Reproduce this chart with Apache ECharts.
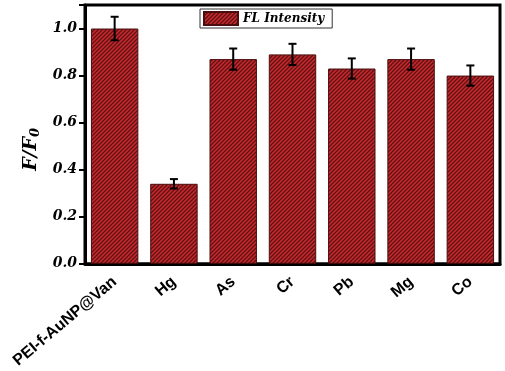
<!DOCTYPE html>
<html>
<head>
<meta charset="utf-8">
<script src="https://cdn.jsdelivr.net/npm/echarts@6/dist/echarts.min.js"></script>
<style>
  html, body { margin: 0; padding: 0; background: #fff; }
  #chart { width: 505px; height: 371px; }
</style>
</head>
<body>
<div id="chart"></div>
<script>
// 数据
var categories = ['PEI-f-AuNP@Van', 'Hg', 'As', 'Cr', 'Pb', 'Mg', 'Co'];
var ratios = [1.0, 0.34, 0.87, 0.89, 0.83, 0.87, 0.80];
var errors = [0.05, 0.02, 0.045, 0.045, 0.043, 0.045, 0.043];
var yTicks = [0.0, 0.2, 0.4, 0.6, 0.8, 1.0];

// 斜线填充图案
function makeHatch() {
  var c = document.createElement('canvas');
  c.width = 4; c.height = 4;
  var ctx = c.getContext('2d');
  ctx.fillStyle = '#c9292f';
  ctx.fillRect(0, 0, 4, 4);
  ctx.strokeStyle = '#5e1212';
  ctx.lineWidth = 1.3;
  ctx.beginPath();
  ctx.moveTo(-1, 5); ctx.lineTo(5, -1);
  ctx.moveTo(-1, 1); ctx.lineTo(1, -1);
  ctx.moveTo(3, 5); ctx.lineTo(5, 3);
  ctx.stroke();
  return c;
}
var hatch = { image: makeHatch(), repeat: 'repeat' };

var myChart = echarts.init(document.getElementById('chart'));
var option = {
  animation: false,
  grid: {
    left: 85, right: 5, top: 5, bottom: 107,
    show: true, borderColor: '#000', borderWidth: 3, backgroundColor: 'transparent'
  },
  legend: {
    data: [{ name: 'FL Intensity', icon: 'rect' }],
    left: 200, top: 9,
    itemWidth: 34, itemHeight: 13, itemGap: 6,
    borderColor: '#333', borderWidth: 1, padding: [2, 8, 2, 3],
    textStyle: { fontFamily: 'DejaVu Serif', fontStyle: 'italic', fontWeight: 'bold', fontSize: 12, color: '#000' }
  },
  xAxis: {
    type: 'category',
    data: categories,
    axisTick: { alignWithLabel: true, length: 6, lineStyle: { color: '#000', width: 2 } },
    axisLine: { lineStyle: { color: '#000', width: 3 } },
    axisLabel: {
      rotate: 40, margin: 16, interval: 0,
      fontFamily: 'Liberation Sans', fontWeight: 'bold', fontSize: 16, color: '#000'
    }
  },
  yAxis: {
    type: 'value',
    min: 0, max: 1.1, interval: 0.2,
    name: '{i|F/F}{s|0}',
    nameLocation: 'middle', nameRotate: 90, nameGap: 42,
    nameTextStyle: {
      padding: [0, 30, 0, 0],
      rich: {
        i: { fontFamily: 'DejaVu Serif', fontStyle: 'italic', fontWeight: 'bold', fontSize: 19, color: '#000' },
        s: { fontFamily: 'DejaVu Serif', fontStyle: 'italic', fontWeight: 'bold', fontSize: 13, color: '#000', verticalAlign: 'bottom', padding: [8, 0, 0, 0] }
      }
    },
    axisLine: { show: true, lineStyle: { color: '#000', width: 3 } },
    axisTick: { show: true, length: 6, lineStyle: { color: '#000', width: 2 } },
    splitLine: { show: false },
    axisLabel: {
      margin: 8,
      fontFamily: 'DejaVu Serif', fontStyle: 'italic', fontWeight: 'bold', fontSize: 14, color: '#000',
      formatter: function (v) {
        var t = yTicks.find(function (k) { return Math.abs(k - v) < 1e-6; });
        return t === undefined ? '' : t.toFixed(1);
      }
    }
  },
  series: [
    {
      name: 'FL Intensity',
      type: 'bar',
      data: ratios,
      barCategoryGap: '20%',
      itemStyle: { color: hatch, borderColor: '#4a0e0e', borderWidth: 1 }
    },
    {
      name: 'err',
      type: 'custom',
      data: ratios.map(function (v, i) { return [i, v - errors[i], v + errors[i]]; }),
      renderItem: function (params, api) {
        var lo = api.coord([api.value(0), api.value(1)]);
        var hi = api.coord([api.value(0), api.value(2)]);
        var w = 4;
        var st = { stroke: '#000', lineWidth: 2 };
        return {
          type: 'group',
          children: [
            { type: 'line', shape: { x1: hi[0], y1: hi[1], x2: lo[0], y2: lo[1] }, style: st },
            { type: 'line', shape: { x1: hi[0] - w, y1: hi[1], x2: hi[0] + w, y2: hi[1] }, style: st },
            { type: 'line', shape: { x1: lo[0] - w, y1: lo[1], x2: lo[0] + w, y2: lo[1] }, style: st }
          ]
        };
      },
      z: 5
    }
  ]
};
myChart.setOption(option);
</script>
</body>
</html>
